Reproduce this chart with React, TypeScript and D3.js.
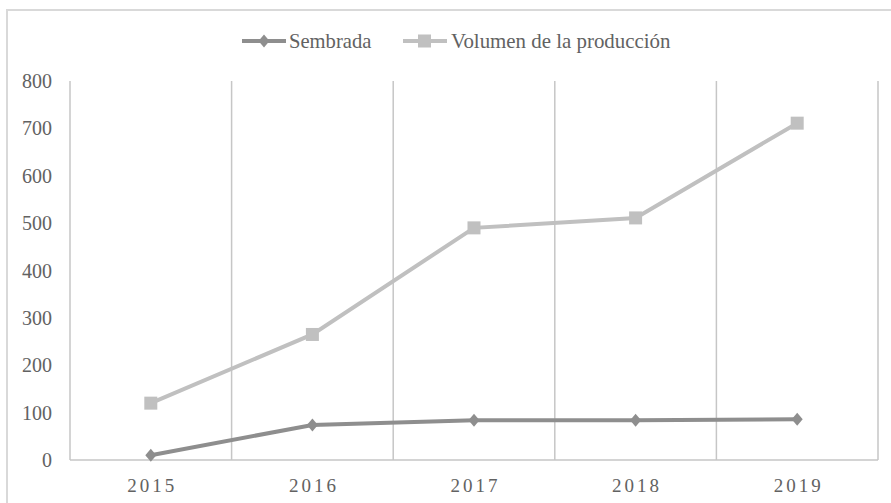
import React from "react";
import * as d3 from "d3";

const years = ["2015", "2016", "2017", "2018", "2019"];
const sembrada = [10, 74, 84, 84, 86];
const volumen = [120, 265, 490, 511, 711];
const yTicks = [0, 100, 200, 300, 400, 500, 600, 700, 800];
const seriesNames = ["Sembrada", "Volumen de la producción"];

const W = 891;
const H = 503;
const FONT = "Liberation Serif, DejaVu Serif, serif";
const TEXT = "#626262";
const GRID = "#c6c6c6";
const C_SEM = "#8e8e8e";
const C_VOL = "#c0c0c0";

export default function App() {
  const x = d3.scaleBand<string>().domain(years).range([70, 878]);
  const y = d3.scaleLinear().domain([0, 800]).range([460, 81]);
  const cx = (d: string) => (x(d) as number) + x.bandwidth() / 2;
  const line = d3
    .line<number>()
    .x((_, i) => cx(years[i]))
    .y((v) => y(v));
  const boundaries = years.map((d) => (x(d) as number) + x.bandwidth());
  const diamond = (px: number, py: number) =>
    `M${px},${py - 6.5} L${px + 5.5},${py} L${px},${py + 6.5} L${px - 5.5},${py} Z`;
  const ts = { fontFamily: FONT };

  return (
    <svg
      width={W}
      height={H}
      style={{ position: "absolute", left: 0, top: 0, background: "#fff" }}
    >
      <rect x={0} y={0} width={W} height={H} fill="#fff" />
      <rect x={7} y={10} width={W + 20} height={H + 20} fill="none" stroke="#d9d9d9" strokeWidth={2} />

      {/* axes & vertical grid */}
      <line x1={x.range()[0]} x2={x.range()[0]} y1={y(800)} y2={y(0)} stroke={GRID} strokeWidth={1.5} />
      {boundaries.map((bx, i) => (
        <line key={i} x1={bx} x2={bx} y1={y(800)} y2={y(0)} stroke={GRID} strokeWidth={1.5} />
      ))}
      <line x1={x.range()[0]} x2={x.range()[1]} y1={y(0)} y2={y(0)} stroke={GRID} strokeWidth={1.5} />

      {/* y labels */}
      {yTicks.map((t) => (
        <text key={t} x={52} y={y(t)} dy="0.35em" textAnchor="end" fontSize={20} fill={TEXT} style={ts}>
          {t}
        </text>
      ))}

      {/* x labels */}
      {years.map((d) => (
        <text key={d} x={cx(d) + 1.5} y={492} textAnchor="middle" fontSize={19} letterSpacing={3} fill={TEXT} style={ts}>
          {d}
        </text>
      ))}

      {/* series */}
      <path d={line(volumen) || ""} fill="none" stroke={C_VOL} strokeWidth={4} />
      {volumen.map((v, i) => (
        <rect key={i} x={cx(years[i]) - 6.5} y={y(v) - 6.5} width={13} height={13} fill={C_VOL} />
      ))}
      <path d={line(sembrada) || ""} fill="none" stroke={C_SEM} strokeWidth={4} />
      {sembrada.map((v, i) => (
        <path key={i} d={diamond(cx(years[i]), y(v))} fill={C_SEM} />
      ))}

      {/* legend */}
      <line x1={242} x2={286} y1={41} y2={41} stroke={C_SEM} strokeWidth={4} />
      <path d={diamond(264, 41)} fill={C_SEM} />
      <text x={289} y={48} fontSize={20.6} fill={TEXT} style={ts}>
        {seriesNames[0]}
      </text>
      <line x1={403} x2={447} y1={41} y2={41} stroke={C_VOL} strokeWidth={4} />
      <rect x={418} y={34.5} width={13} height={13} fill={C_VOL} />
      <text x={451} y={48} fontSize={20.9} fill={TEXT} style={ts}>
        {seriesNames[1]}
      </text>
    </svg>
  );
}
